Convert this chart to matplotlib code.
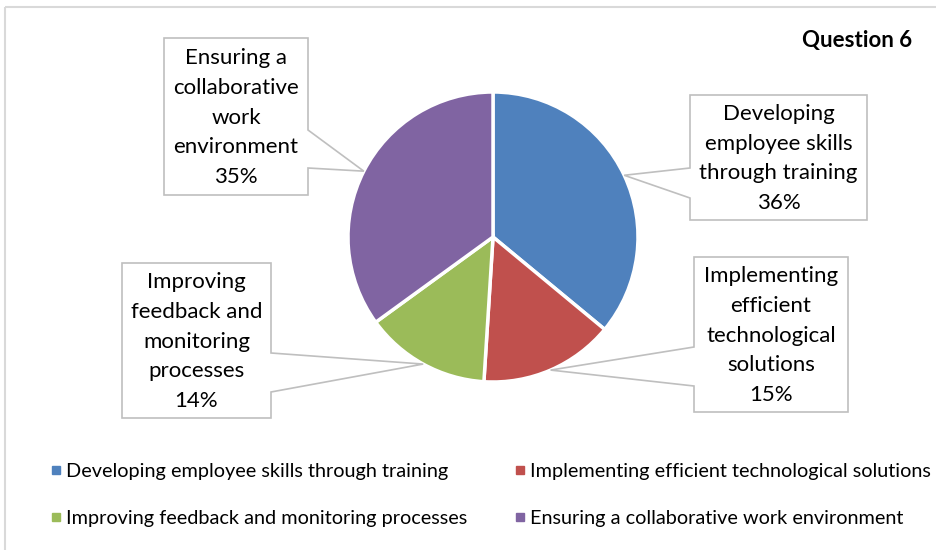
import matplotlib.pyplot as plt
import numpy as np
from matplotlib.patches import Polygon, Rectangle
from matplotlib.lines import Line2D

plt.rcParams['font.family'] = ['Lato', 'DejaVu Sans']

categories = [
    "Developing employee skills through training",
    "Implementing efficient technological solutions",
    "Improving feedback and monitoring processes",
    "Ensuring a collaborative work environment",
]
box_labels = [
    "Developing\nemployee skills\nthrough training",
    "Implementing\nefficient\ntechnological\nsolutions",
    "Improving\nfeedback and\nmonitoring\nprocesses",
    "Ensuring a\ncollaborative\nwork\nenvironment",
]
shares = [36, 15, 14, 35]
colors = ["#4F81BD", "#C0504D", "#9BBB59", "#8064A2"]
title = "Question 6"

# layout in pixel units (y down): box x0, x1, y0, y1, wedge base b1, b2, side
boxes = [
    (690, 867, 95, 220, 168, 198, "left"),
    (694, 848, 257, 412, 347, 386, "left"),
    (122, 271, 263, 418, 353, 392, "right"),
    (164, 308, 38, 195, 130, 168, "right"),
]
center = (493, 237)
radius = 145

fig = plt.figure(figsize=(9.36, 5.5), dpi=100)
ax = fig.add_axes([0, 0, 1, 1])

# y axis is inverted below, so counterclock in data = clockwise on screen
wedges, _ = ax.pie(shares, colors=colors, startangle=-90, counterclock=True,
                   center=center, radius=radius,
                   wedgeprops=dict(edgecolor="white", linewidth=2.5))

ax.set_xlim(0, 936)
ax.set_ylim(550, 0)
ax.set_aspect('equal')
ax.axis('off')

edge = "#BFBFBF"
for w, lab, pct, (x0, x1, y0, y1, b1, b2, side) in zip(wedges, box_labels, shares, boxes):
    mid = np.deg2rad((w.theta1 + w.theta2) / 2)
    tip = (center[0] + radius * np.cos(mid), center[1] + radius * np.sin(mid))
    if side == "right":
        pts = [(x0, y0), (x1, y0), (x1, b1), tip, (x1, b2), (x1, y1), (x0, y1)]
    else:
        pts = [(x0, y0), (x1, y0), (x1, y1), (x0, y1), (x0, b2), tip, (x0, b1)]
    ax.add_patch(Polygon(pts, closed=True, facecolor="white", edgecolor=edge,
                         linewidth=1.2, zorder=3))
    ax.text((x0 + x1) / 2, (y0 + y1) / 2 + 1, f"{lab}\n{pct}%", ha="center", va="center",
            fontsize=16, linespacing=1.62, color="#000000", zorder=4)

ax.text(912, 40, title, ha="right", va="center", fontsize=16, fontweight="bold")

handles = [Line2D([], [], marker="s", linestyle="", color=c, markersize=6) for c in colors]
leg_kw = dict(loc="center left", bbox_transform=ax.transData, frameon=False,
              fontsize=14.3, handlelength=0.55, handletextpad=0.2,
              labelspacing=1.5, borderaxespad=0)
leg1 = ax.legend([handles[0], handles[2]], [categories[0], categories[2]],
                 bbox_to_anchor=(43, 495), **leg_kw)
ax.add_artist(leg1)
ax.legend([handles[1], handles[3]], [categories[1], categories[3]],
          bbox_to_anchor=(507, 495), **leg_kw)

ax.add_patch(Rectangle((5, 7), 945, 560, fill=False, edgecolor="#D9D9D9",
                       linewidth=1.5, clip_on=False))

fig.savefig("out.png", dpi=100)
